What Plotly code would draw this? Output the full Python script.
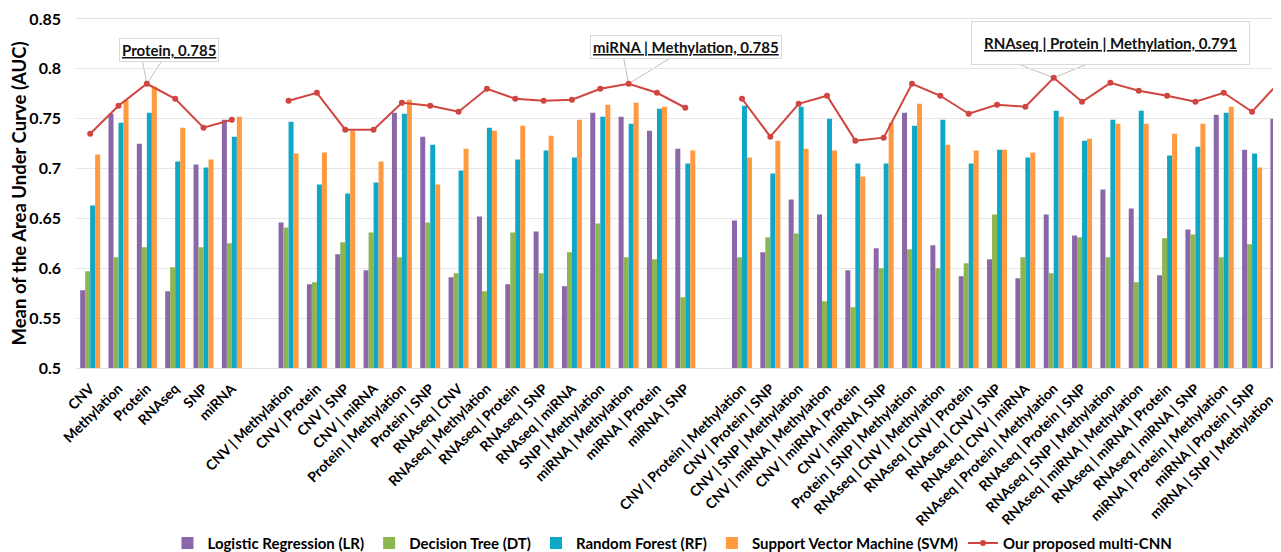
import plotly.graph_objects as go

# ---------------- data ----------------
singles = ["CNV", "Methylation", "Protein", "RNAseq", "SNP", "miRNA"]
pairs = ["CNV | Methylation", "CNV | Protein", "CNV | SNP", "CNV | miRNA",
         "Protein | Methylation", "Protein | SNP", "RNAseq | CNV",
         "RNAseq | Methylation", "RNAseq | Protein", "RNAseq | SNP",
         "RNAseq | miRNA", "SNP | Methylation", "miRNA | Methylation",
         "miRNA | Protein", "miRNA | SNP"]
triples = ["CNV | Protein | Methylation", "CNV | Protein | SNP",
           "CNV | SNP | Methylation", "CNV | miRNA | Methylation",
           "CNV | miRNA | Protein", "CNV | miRNA | SNP",
           "Protein | SNP | Methylation", "RNAseq | CNV | Methylation",
           "RNAseq | CNV | Protein", "RNAseq | CNV | SNP", "RNAseq | CNV | miRNA",
           "RNAseq | Protein | Methylation", "RNAseq | Protein | SNP",
           "RNAseq | SNP | Methylation", "RNAseq | miRNA | Methylation",
           "RNAseq | miRNA | Protein", "RNAseq | miRNA | SNP",
           "miRNA | Protein | Methylation", "miRNA | Protein | SNP",
           "miRNA | SNP | Methylation"]

lr_single = [0.578, 0.755, 0.725, 0.577, 0.704, 0.749]
dt_single = [0.597, 0.611, 0.621, 0.601, 0.621, 0.625]
rf_single = [0.663, 0.746, 0.756, 0.707, 0.701, 0.732]
svm_single = [0.714, 0.769, 0.782, 0.741, 0.709, 0.752]
cnn_single = [0.735, 0.763, 0.785, 0.770, 0.741, 0.749]

lr_pair = [0.646, 0.584, 0.614, 0.598, 0.756, 0.732, 0.591, 0.652, 0.584, 0.637, 0.582, 0.756, 0.752, 0.738, 0.720]
dt_pair = [0.641, 0.586, 0.626, 0.636, 0.611, 0.646, 0.595, 0.577, 0.636, 0.595, 0.616, 0.645, 0.611, 0.609, 0.571]
rf_pair = [0.747, 0.684, 0.675, 0.686, 0.755, 0.724, 0.698, 0.741, 0.709, 0.718, 0.711, 0.752, 0.745, 0.760, 0.705]
svm_pair = [0.715, 0.716, 0.738, 0.707, 0.769, 0.684, 0.720, 0.738, 0.743, 0.733, 0.749, 0.764, 0.766, 0.762, 0.718]
cnn_pair = [0.768, 0.776, 0.739, 0.739, 0.766, 0.763, 0.757, 0.780, 0.770, 0.768, 0.769, 0.780, 0.785, 0.776, 0.761]

lr_triple = [0.648, 0.616, 0.669, 0.654, 0.598, 0.620, 0.756, 0.623, 0.592, 0.609, 0.590, 0.654, 0.633, 0.679, 0.660, 0.593, 0.639, 0.754, 0.719, 0.750]
dt_triple = [0.611, 0.631, 0.635, 0.567, 0.561, 0.600, 0.619, 0.600, 0.605, 0.654, 0.611, 0.595, 0.631, 0.611, 0.586, 0.630, 0.634, 0.611, 0.624, 0.611]
rf_triple = [0.763, 0.695, 0.762, 0.750, 0.705, 0.705, 0.743, 0.749, 0.705, 0.719, 0.711, 0.758, 0.728, 0.749, 0.758, 0.713, 0.722, 0.756, 0.715, 0.765]
svm_triple = [0.711, 0.728, 0.720, 0.718, 0.692, 0.746, 0.765, 0.724, 0.718, 0.719, 0.716, 0.752, 0.730, 0.745, 0.745, 0.735, 0.745, 0.762, 0.701, 0.770]
cnn_triple = [0.770, 0.732, 0.765, 0.773, 0.728, 0.731, 0.785, 0.773, 0.755, 0.764, 0.762, 0.791, 0.767, 0.786, 0.778, 0.773, 0.767, 0.776, 0.757, 0.788]

y_ticks = [0.5, 0.55, 0.6, 0.65, 0.7, 0.75, 0.8, 0.85]
y_ticktext = ["0.5", "0.55", "0.6", "0.65", "0.7", "0.75", "0.8", "0.85"]

series_names = ["Logistic Regression (LR)", "Decision Tree (DT)",
                "Random Forest (RF)", "Support Vector Machine (SVM)"]
cnn_name = "Our proposed multi-CNN"

# callouts: (category label, value label text)
callouts = [("Protein", "Protein, 0.785"),
            ("miRNA | Methylation", "miRNA | Methylation, 0.785"),
            ("RNAseq | Protein | Methylation", "RNAseq | Protein | Methylation, 0.791")]

# ---------------- build ----------------
cats = singles + [None] + pairs + [None] + triples
def spread(a, b, c):
    return a + [None] + b + [None] + c

lr = spread(lr_single, lr_pair, lr_triple)
dt = spread(dt_single, dt_pair, dt_triple)
rf = spread(rf_single, rf_pair, rf_triple)
svm = spread(svm_single, svm_pair, svm_triple)
cnn = spread(cnn_single, cnn_pair, cnn_triple)

xs = list(range(len(cats)))
labelled = [i for i, c in enumerate(cats) if c is not None]
# the last category sits on the right edge; its label is placed as an
# annotation pulled inside the page (as in the original)
last_i = labelled[-1]
tickvals = labelled[:-1]
ticktext = [cats[i] for i in tickvals]

colors = ["#8A67A8", "#8DB552", "#0EA8C6", "#FF9A40"]
line_color = "#D0453F"
FONT = "Lato"
TICKFONT = dict(family=FONT, size=14, weight=700, color="#000000")

fig = go.Figure()
for name, vals, col in zip(series_names, [lr, dt, rf, svm], colors):
    fig.add_trace(go.Bar(x=xs, y=vals, name=name, marker_color=col,
                         marker_line_width=0))

fig.add_trace(go.Scatter(x=xs, y=cnn, name=cnn_name, mode="lines+markers",
                         line=dict(color=line_color, width=2),
                         marker=dict(color=line_color, size=6),
                         connectgaps=False))

box_specs = {
    "Protein": dict(xs=22, ys=34, pad=2, left=-5, right=17, up=26),
    "miRNA | Methylation": dict(xs=57, ys=37, pad=2, left=-5, right=42, up=26),
    "RNAseq | Protein | Methylation": dict(xs=57, ys=35, pad=12, left=-36, right=34, up=14),
}
for cat, text in callouts:
    i = cats.index(cat)
    v = cnn[i]
    s = box_specs[cat]
    fig.add_annotation(x=i, y=v, xref="x", yref="y", text=text, showarrow=False,
                       xshift=s["xs"], yshift=s["ys"], xanchor="center", yanchor="middle",
                       font=dict(family=FONT, size=15, color="#111111", weight=700,
                                 lineposition="under"),
                       bgcolor="white", bordercolor="#D9D9D9", borderwidth=1,
                       borderpad=s["pad"])
    fig.add_shape(type="path", xref="x", yref="y", xsizemode="pixel",
                  ysizemode="pixel", xanchor=i, yanchor=v,
                  path=f"M {s['left']},{s['up']} L 0,0 L {s['right']},{s['up']}",
                  line=dict(color="#BFBFBF", width=1), layer="below")

# label of the last category, slid along its diagonal so it stays inside the page
fig.add_annotation(x=last_i, y=0, xref="x", yref="paper", text=cats[last_i],
                   textangle=-45, showarrow=False, xanchor="right", yanchor="top",
                   xshift=-1, yshift=-20, font=TICKFONT)

# page body has an 8px margin, so the figure is sized to fit the window
fig.update_layout(
    width=1273, height=544,
    margin=dict(l=68, r=0, t=11, b=184, autoexpand=False),
    plot_bgcolor="white", paper_bgcolor="white",
    barmode="group", bargap=0.295, bargroupgap=0,
    font=dict(family=FONT, color="#000000"),
    showlegend=True,
    legend=dict(orientation="h", x=0.495, xanchor="center",
                yref="container", y=0.016, yanchor="middle",
                font=dict(family=FONT, size=15, weight=700),
                itemwidth=30, tracegroupgap=0),
)
fig.update_xaxes(range=[-0.5, 42.02], tickmode="array", tickvals=tickvals,
                 ticktext=ticktext, tickangle=-45, showgrid=False,
                 showline=True, linecolor="#E0E0E0", linewidth=1, mirror=True,
                 ticks="", automargin=False, ticklabeloverflow="allow",
                 ticklabelstandoff=6, tickfont=TICKFONT)
fig.update_yaxes(range=[0.5, 0.85], tickmode="array", tickvals=y_ticks,
                 ticktext=y_ticktext, showgrid=True, gridcolor="#E6E6E6",
                 gridwidth=1, zeroline=False, ticks="", ticklabelstandoff=14,
                 automargin=False,
                 tickfont=dict(family=FONT, size=16, weight=700),
                 title=dict(text="Mean of the Area Under Curve (AUC)",
                            font=dict(family=FONT, size=18.5, weight=700),
                            standoff=6))

fig.write_html("out.html")
